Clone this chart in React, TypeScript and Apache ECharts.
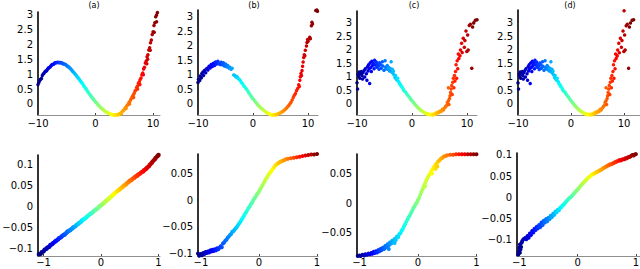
import React, { useEffect, useRef } from "react";
import * as echarts from "echarts";

// jet colormap
const JET = ["#00007F", "#0000FF", "#007FFF", "#00FFFF", "#7FFF7F", "#FFFF00", "#FF7F00", "#FF0000", "#7F0000"];

const panelTitles = ["(a)", "(b)", "(c)", "(d)"];
const topXTicks = [-10, 0, 10];
const topYTicks = [0, 0.5, 1, 1.5, 2, 2.5, 3];
const botXTicks = [-1, 0, 1];
const botYTicksA = [-0.1, -0.05, 0, 0.05, 0.1];
const botYTicksB = [-0.1, -0.05, 0, 0.05];
const botYTicksC = [-0.05, 0, 0.05];
const botYTicksD = [-0.1, -0.05, 0, 0.05, 0.1];

const topA: number[][] = [
  [-10.0,0.65],[-9.85,0.72],[-9.7,0.79],[-9.55,0.83],[-9.4,0.85],[-9.25,0.95],[-9.1,1.0],[-8.95,1.03],[-8.8,1.08],[-8.65,1.1],
  [-8.5,1.11],[-8.35,1.16],[-8.2,1.2],[-8.05,1.22],[-7.9,1.24],[-7.75,1.28],[-7.6,1.31],[-7.45,1.32],[-7.3,1.33],[-7.15,1.36],
  [-7.0,1.38],[-6.85,1.38],[-6.7,1.39],[-6.55,1.4],[-6.4,1.38],[-6.25,1.39],[-6.1,1.39],[-5.95,1.37],[-5.8,1.37],[-5.65,1.35],
  [-5.5,1.34],[-5.35,1.33],[-5.2,1.32],[-5.05,1.29],[-4.9,1.27],[-4.75,1.25],[-4.6,1.23],[-4.45,1.2],[-4.3,1.17],[-4.15,1.14],
  [-4.0,1.1],[-3.85,1.07],[-3.7,1.04],[-3.55,1.0],[-3.4,0.97],[-3.25,0.93],[-3.1,0.89],[-2.95,0.86],[-2.8,0.82],[-2.65,0.78],
  [-2.5,0.74],[-2.35,0.7],[-2.2,0.66],[-2.05,0.61],[-1.9,0.57],[-1.75,0.53],[-1.6,0.49],[-1.45,0.44],[-1.3,0.4],[-1.15,0.36],
  [-1.0,0.32],[-0.85,0.28],[-0.7,0.24],[-0.55,0.2],[-0.4,0.17],[-0.25,0.13],[-0.1,0.09],[0.05,0.06],[0.2,0.03],[0.35,-0.01],
  [0.5,-0.04],[0.65,-0.07],[0.8,-0.1],[0.95,-0.13],[1.1,-0.16],[1.25,-0.18],[1.4,-0.2],[1.55,-0.23],[1.7,-0.25],[1.85,-0.26],
  [2.0,-0.28],[2.15,-0.3],[2.3,-0.31],[2.45,-0.33],[2.6,-0.34],[2.75,-0.35],[2.9,-0.35],[3.05,-0.36],[3.2,-0.37],[3.35,-0.37],
  [3.5,-0.37],[3.7,-0.36],[3.85,-0.35],[4.0,-0.36],[4.15,-0.33],[4.3,-0.31],[4.45,-0.3],[4.6,-0.27],[4.75,-0.23],[4.9,-0.21],
  [5.05,-0.16],[5.2,-0.13],[5.35,-0.08],[5.5,-0.05],[5.65,-0.01],[5.8,0.05],[5.95,0.08],[6.1,0.14],[6.25,0.19],[6.4,0.25],
  [6.55,0.3],[6.7,0.35],[6.85,0.43],[7.0,0.47],[7.15,0.56],[7.3,0.6],[7.45,0.69],[7.6,0.74],[7.75,0.82],[7.9,0.87],
  [8.05,0.98],[8.2,1.04],[8.35,1.17],[8.5,1.23],[8.65,1.37],[8.8,1.44],[8.95,1.58],[9.1,1.65],[9.25,1.81],[9.4,1.88],
  [9.55,2.05],[9.7,2.14],[9.85,2.33],[10.0,2.42],[10.15,2.63],[10.3,2.72],[10.45,2.92],[10.6,2.98],[10.75,3.06],
  [5.9,0.0],[6.6,0.22],[7.3,0.5],[7.7,0.65],[8.3,0.98],[8.9,1.35],[9.05,1.5],[9.5,1.8],[10.2,2.4],[10.6,2.75],[4.5,-0.33],[5.3,-0.15],
];

const topB: number[][] = [
  [-10.1,0.62],[-10.0,0.74],[-9.9,0.85],[-9.7,0.81],[-9.6,0.96],[-9.4,0.9],[-9.3,1.05],[-9.1,1.1],[-9.0,0.98],[-8.8,1.16],
  [-8.6,1.08],[-8.4,1.22],[-8.2,1.17],[-8.0,1.3],[-7.8,1.24],[-7.6,1.36],[-7.4,1.29],[-7.2,1.4],[-7.0,1.33],[-6.8,1.45],
  [-6.6,1.38],[-6.4,1.47],[-6.2,1.4],[-6.0,1.36],[-5.8,1.44],[-5.6,1.35],[-5.4,1.42],[-5.2,1.31],[-5.0,1.38],[-4.8,1.28],
  [-4.6,1.33],[-4.4,1.24],[-4.2,1.27],[-4.0,1.2],[-3.8,1.23],[-3.5,1.0],[-3.3,0.98],[-3.1,0.93],[-2.9,0.95],[-2.7,0.88],
  [-2.5,0.85],[-2.3,0.8],[-2.1,0.74],[-1.9,0.7],[-1.7,0.63],[-1.5,0.59],[-1.3,0.53],[-1.1,0.49],[-0.9,0.43],[-0.7,0.37],
  [-0.5,0.31],[-0.3,0.26],[-0.1,0.2],[0.1,0.16],[0.3,0.1],[0.5,0.06],[0.7,0.01],[0.9,-0.04],[1.1,-0.07],[1.3,-0.11],
  [1.5,-0.15],[1.7,-0.18],[1.9,-0.21],[2.1,-0.24],[2.3,-0.27],[2.5,-0.3],[2.7,-0.31],[2.9,-0.34],[3.1,-0.35],[3.3,-0.37],
  [3.5,-0.38],[3.7,-0.37],[3.9,-0.38],[4.1,-0.36],[4.3,-0.37],[4.5,-0.34],[4.7,-0.33],[4.9,-0.31],[5.1,-0.29],[5.3,-0.27],
  [5.5,-0.24],[5.7,-0.21],[5.9,-0.17],[6.1,-0.14],[6.3,-0.09],[6.5,-0.05],[6.7,0.01],[6.9,0.06],[7.1,0.14],[7.3,0.22],
  [7.5,0.3],[7.7,0.36],[7.9,0.46],[8.1,0.53],[8.3,0.66],[8.4,0.6],[8.5,0.82],[8.6,0.94],[8.7,1.05],[8.8,0.98],
  [8.9,1.15],[9.0,1.3],[9.1,1.45],[9.2,1.6],[9.3,1.7],[9.4,1.66],[9.5,1.85],[9.7,2.0],[9.8,2.12],[9.9,2.22],
  [10.0,2.16],[10.3,2.3],[10.4,2.25],[10.6,2.7],[10.7,2.82],[10.8,2.76],[11.4,3.22],[11.6,3.24],[11.7,3.2],
];

const topC: number[][] = [
  [-10.1,0.62],[-10.0,0.78],[-9.9,0.55],[-9.8,1.1],[-9.7,1.02],[-9.6,1.18],[-9.5,0.95],[-9.4,1.12],[-9.2,1.2],[-9.1,1.05],
  [-9.0,0.92],[-8.9,1.16],[-8.7,1.24],[-8.6,1.0],[-8.5,1.3],[-8.3,1.12],[-8.2,0.88],[-8.1,1.38],[-8.0,1.22],[-7.9,1.45],
  [-7.8,1.3],[-7.7,0.76],[-7.6,1.52],[-7.5,1.35],[-7.4,1.2],[-7.3,1.58],[-7.2,1.42],[-7.0,1.5],[-6.9,1.3],[-6.8,1.62],
  [-6.7,1.44],[-6.5,1.55],[-6.4,1.36],[-6.3,1.48],[-6.1,1.4],[-6.0,1.28],[-5.9,1.52],[-5.7,1.45],[-5.6,1.32],[-5.4,1.56],
  [-5.3,1.4],[-5.1,1.25],[-4.9,1.6],[-4.8,1.36],[-4.7,1.3],[-4.5,1.42],[-4.4,1.28],[-4.2,1.35],[-4.1,1.22],[-3.9,1.3],
  [-3.8,1.56],[-3.7,1.18],[-3.6,1.28],[-3.5,1.15],[-3.4,1.22],[-3.3,1.08],[-3.1,0.98],[-3.0,1.05],[-2.9,0.92],[-2.7,0.88],
  [-2.6,0.95],[-2.4,0.82],[-2.3,0.76],[-2.1,0.72],[-2.0,0.66],[-1.8,0.62],[-1.6,0.55],[-1.5,0.5],[-1.3,0.46],[-1.1,0.42],
  [-0.9,0.36],[-0.7,0.3],[-0.5,0.26],[-0.3,0.2],[-0.1,0.14],[0.1,0.1],[0.3,0.04],[0.5,0.0],[0.7,-0.06],[0.9,-0.1],
  [1.1,-0.14],[1.3,-0.18],[1.5,-0.22],[1.7,-0.24],[1.9,-0.28],[2.1,-0.3],[2.3,-0.33],[2.5,-0.35],[2.7,-0.37],[2.9,-0.36],
  [3.1,-0.39],[3.3,-0.4],[3.5,-0.38],[3.7,-0.41],[3.9,-0.37],[4.1,-0.39],[4.3,-0.34],[4.5,-0.36],[4.7,-0.3],[4.9,-0.32],
  [5.1,-0.26],[5.3,-0.28],[5.5,-0.2],[5.7,-0.22],[5.9,-0.15],[6.1,-0.1],[6.3,-0.05],[6.4,0.05],[6.6,0.12],[6.7,-0.02],
  [6.8,0.2],[6.9,0.3],[7.0,0.42],[7.1,0.55],[6.6,0.6],[7.2,0.68],[7.3,0.35],[7.4,0.8],[7.5,0.95],[7.6,0.6],
  [7.7,1.05],[7.8,0.85],[7.9,1.2],[8.0,1.45],[8.1,0.95],[8.2,1.6],[8.3,1.3],[8.4,1.85],[8.5,1.68],[8.7,1.78],
  [8.8,2.0],[9.0,2.25],[9.1,1.9],[9.3,2.43],[9.5,2.1],[9.6,2.35],[9.8,2.7],[9.95,1.94],[10.0,3.45],[10.1,2.55],
  [10.2,2.0],[10.4,2.9],[10.6,2.95],[10.85,1.32],[11.0,2.85],[11.2,3.0],[11.5,3.1],[11.8,3.12],
];
// panel (d) top shows the same sample as panel (c)
const topD: number[][] = topC;

const botA: number[][] = [
  [-1.1,-0.117],[-1.08,-0.113],[-1.05,-0.112],[-1.03,-0.108],[-1.0,-0.106],[-0.98,-0.102],[-0.95,-0.1],[-0.93,-0.097],[-0.9,-0.095],[-0.88,-0.091],
  [-0.85,-0.089],[-0.83,-0.086],[-0.8,-0.083],[-0.78,-0.081],[-0.75,-0.078],[-0.73,-0.075],[-0.7,-0.073],[-0.68,-0.07],[-0.65,-0.067],[-0.63,-0.066],
  [-0.6,-0.062],[-0.58,-0.059],[-0.55,-0.057],[-0.53,-0.055],[-0.5,-0.052],[-0.48,-0.049],[-0.45,-0.047],[-0.43,-0.044],[-0.4,-0.041],[-0.38,-0.039],
  [-0.35,-0.036],[-0.33,-0.033],[-0.3,-0.03],[-0.28,-0.028],[-0.25,-0.025],[-0.23,-0.022],[-0.2,-0.019],[-0.18,-0.017],[-0.15,-0.014],[-0.13,-0.011],
  [-0.1,-0.008],[-0.08,-0.006],[-0.05,-0.003],[-0.03,0.0],[0.0,0.003],[0.03,0.006],[0.05,0.009],[0.08,0.012],[0.1,0.015],[0.13,0.018],
  [0.15,0.021],[0.18,0.024],[0.2,0.027],[0.23,0.03],[0.25,0.033],[0.28,0.036],[0.3,0.039],[0.33,0.041],[0.35,0.044],[0.38,0.047],
  [0.4,0.05],[0.43,0.052],[0.45,0.055],[0.48,0.058],[0.5,0.061],[0.53,0.063],[0.55,0.066],[0.58,0.068],[0.6,0.071],[0.63,0.073],
  [0.65,0.076],[0.68,0.078],[0.7,0.081],[0.73,0.083],[0.75,0.086],[0.78,0.089],[0.8,0.092],[0.83,0.095],[0.85,0.099],[0.88,0.103],
  [0.9,0.107],[0.93,0.111],[0.95,0.115],[0.98,0.119],[1.0,0.122],
];

const botB: number[][] = [
  [-1.07,-0.104],[-1.05,-0.101],[-1.03,-0.105],[-1.0,-0.102],[-0.98,-0.104],[-0.96,-0.1],[-0.94,-0.102],[-0.92,-0.098],[-0.9,-0.1],[-0.88,-0.097],
  [-0.86,-0.099],[-0.84,-0.095],[-0.82,-0.097],[-0.8,-0.094],[-0.78,-0.096],[-0.76,-0.093],[-0.74,-0.095],[-0.72,-0.091],[-0.7,-0.093],[-0.68,-0.09],
  [-0.66,-0.087],[-0.64,-0.089],[-0.62,-0.082],[-0.6,-0.08],[-0.58,-0.077],[-0.56,-0.075],[-0.54,-0.071],[-0.52,-0.069],[-0.5,-0.066],[-0.48,-0.064],
  [-0.46,-0.06],[-0.44,-0.059],[-0.42,-0.056],[-0.4,-0.053],[-0.38,-0.051],[-0.36,-0.047],[-0.34,-0.044],[-0.32,-0.041],[-0.3,-0.037],[-0.28,-0.034],
  [-0.26,-0.03],[-0.24,-0.026],[-0.22,-0.023],[-0.2,-0.019],[-0.18,-0.015],[-0.16,-0.012],[-0.14,-0.008],[-0.12,-0.005],[-0.1,-0.001],[-0.08,0.003],
  [-0.06,0.006],[-0.04,0.01],[-0.02,0.013],[0.0,0.016],[0.02,0.02],[0.04,0.024],[0.06,0.028],[0.08,0.032],[0.1,0.036],[0.12,0.04],
  [0.14,0.043],[0.16,0.047],[0.18,0.05],[0.2,0.053],[0.22,0.056],[0.24,0.059],[0.26,0.062],[0.28,0.065],[0.3,0.067],[0.32,0.069],
  [0.34,0.07],[0.36,0.072],[0.38,0.073],[0.4,0.074],[0.43,0.075],[0.46,0.077],[0.5,0.078],[0.55,0.079],[0.6,0.08],[0.65,0.081],
  [0.7,0.082],[0.75,0.083],[0.8,0.084],[0.85,0.085],[0.9,0.086],[0.95,0.086],[1.0,0.087],
];

const botC: number[][] = [
  [-1.03,-0.09],[-1.0,-0.089],[-0.98,-0.09],[-0.95,-0.088],[-0.92,-0.089],[-0.9,-0.087],[-0.87,-0.088],[-0.85,-0.086],[-0.82,-0.087],[-0.8,-0.085],
  [-0.78,-0.086],[-0.76,-0.083],[-0.74,-0.085],[-0.72,-0.082],[-0.7,-0.084],[-0.68,-0.08],[-0.66,-0.082],[-0.64,-0.078],[-0.62,-0.08],[-0.6,-0.076],
  [-0.58,-0.078],[-0.56,-0.073],[-0.54,-0.075],[-0.52,-0.07],[-0.5,-0.072],[-0.48,-0.067],[-0.46,-0.069],[-0.44,-0.064],[-0.42,-0.066],[-0.4,-0.061],
  [-0.38,-0.063],[-0.36,-0.057],[-0.34,-0.058],[-0.32,-0.053],[-0.3,-0.051],[-0.28,-0.047],[-0.26,-0.044],[-0.24,-0.04],[-0.22,-0.036],[-0.2,-0.032],
  [-0.18,-0.028],[-0.16,-0.024],[-0.14,-0.021],[-0.12,-0.017],[-0.1,-0.013],[-0.08,-0.009],[-0.06,-0.006],[-0.04,-0.002],[-0.02,0.001],[0.0,0.005],
  [0.02,0.009],[0.04,0.014],[0.06,0.019],[0.08,0.024],[0.1,0.029],[0.12,0.033],[0.14,0.038],[0.16,0.042],[0.18,0.046],[0.2,0.049],
  [0.22,0.053],[0.24,0.056],[0.26,0.059],[0.28,0.062],[0.3,0.065],[0.32,0.067],[0.34,0.07],[0.36,0.072],[0.38,0.074],[0.4,0.076],
  [0.42,0.077],[0.44,0.079],[0.47,0.08],[0.5,0.081],[0.55,0.082],[0.6,0.082],[0.65,0.083],[0.7,0.083],[0.75,0.083],[0.8,0.083],
  [0.85,0.083],[0.9,0.083],[0.95,0.083],[1.0,0.083],
  [-0.5,-0.078],[-0.4,-0.068],[0.3,0.058],[0.33,0.062],[0.12,0.028],[0.24,0.05],
];

const botD: number[][] = [
  [-1.02,-0.136],[-1.0,-0.14],[-1.01,-0.128],[-0.99,-0.132],[-0.98,-0.124],[-1.0,-0.12],[-0.97,-0.118],[-0.99,-0.112],[-0.96,-0.108],[-0.95,-0.104],
  [-0.93,-0.1],[-0.9,-0.097],[-0.88,-0.1],[-0.86,-0.092],[-0.84,-0.096],[-0.82,-0.086],[-0.8,-0.09],[-0.78,-0.08],[-0.76,-0.084],[-0.74,-0.075],
  [-0.72,-0.078],[-0.7,-0.07],[-0.68,-0.074],[-0.66,-0.066],[-0.64,-0.071],[-0.62,-0.06],[-0.6,-0.066],[-0.58,-0.056],[-0.56,-0.06],[-0.54,-0.052],
  [-0.52,-0.057],[-0.5,-0.049],[-0.48,-0.052],[-0.46,-0.044],[-0.44,-0.047],[-0.42,-0.039],[-0.4,-0.042],[-0.38,-0.034],[-0.36,-0.036],[-0.34,-0.03],
  [-0.32,-0.031],[-0.3,-0.025],[-0.28,-0.024],[-0.26,-0.02],[-0.24,-0.018],[-0.22,-0.014],[-0.2,-0.011],[-0.18,-0.008],[-0.16,-0.005],[-0.14,-0.002],
  [-0.12,0.0],[-0.1,0.003],[-0.08,0.006],[-0.06,0.009],[-0.04,0.012],[-0.02,0.015],[0.0,0.018],[0.02,0.021],[0.04,0.025],[0.06,0.028],
  [0.08,0.031],[0.1,0.034],[0.12,0.037],[0.14,0.04],[0.16,0.043],[0.18,0.046],[0.2,0.048],[0.22,0.05],[0.24,0.053],[0.26,0.054],
  [0.28,0.056],[0.3,0.057],[0.32,0.059],[0.34,0.06],[0.36,0.062],[0.38,0.063],[0.4,0.065],[0.42,0.066],[0.44,0.069],[0.46,0.07],
  [0.48,0.072],[0.5,0.073],[0.52,0.075],[0.54,0.076],[0.56,0.078],[0.58,0.078],[0.6,0.08],[0.62,0.081],[0.64,0.083],[0.66,0.084],
  [0.68,0.085],[0.7,0.086],[0.72,0.088],[0.74,0.087],[0.76,0.089],[0.78,0.09],[0.8,0.09],[0.82,0.092],[0.84,0.092],[0.86,0.094],
  [0.88,0.095],[0.9,0.096],[0.92,0.098],[0.94,0.1],[0.96,0.099],[0.98,0.101],[1.0,0.102],
];

const FONT = "DejaVu Sans";

const panels = [
  { data: topA, grid: { left: 38, top: 12, width: 122, height: 103 }, x: [-10, 11.2], y: [-0.37, 3.08], xt: topXTicks, yt: topYTicks, c: [-10, 10.8], s: 3.5, lm: 3 },
  { data: topB, grid: { left: 198, top: 10, width: 120, height: 105 }, x: [-10, 11.8], y: [-0.38, 3.24], xt: topXTicks, yt: topYTicks, c: [-10, 11.2], s: 3.5, lm: 3 },
  { data: topC, grid: { left: 357, top: 11, width: 120, height: 104 }, x: [-10, 11.8], y: [-0.41, 3.44], xt: topXTicks, yt: topYTicks, c: [-10, 11.2], s: 3.5, lm: 3 },
  { data: topD, grid: { left: 518, top: 10, width: 122, height: 105 }, x: [-10, 13], y: [-0.41, 3.48], xt: topXTicks, yt: topYTicks, c: [-10, 11.2], s: 3.5, lm: 3 },
  { data: botA, grid: { left: 38, top: 155, width: 122, height: 101 }, x: [-1.096, 1.026], y: [-0.117, 0.122], xt: botXTicks, yt: botYTicksA, c: [-1.05, 1.0], s: 4.5, lm: 1 },
  { data: botB, grid: { left: 198, top: 154, width: 120, height: 102 }, x: [-1.05, 1.017], y: [-0.1056, 0.087], xt: botXTicks, yt: botYTicksB, c: [-1.05, 1.0], s: 4, lm: 1 },
  { data: botC, grid: { left: 357, top: 154, width: 120, height: 102 }, x: [-1.043, 1.009], y: [-0.09, 0.0833], xt: botXTicks, yt: botYTicksC, c: [-1.03, 1.0], s: 4, lm: 1 },
  { data: botD, grid: { left: 517, top: 153, width: 123, height: 103 }, x: [-1.04, 1.07], y: [-0.1395, 0.1047], xt: botXTicks, yt: botYTicksD, c: [-1.03, 1.0], s: 4, lm: 1 },
];

const titleX = [94, 254, 414, 570];

const fmt = (v: number) => String(+Number(v).toFixed(4)).replace("-", "\u2212");

export default function App() {
  const ref = useRef<HTMLDivElement>(null);
  useEffect(() => {
    document.body.style.margin = "0";
    if (!ref.current) return;
    const chart = echarts.init(ref.current, undefined, { renderer: "svg" });
    const option: any = {
      animation: false,
      backgroundColor: "#fff",
      grid: panels.map((p) => ({ ...p.grid, containLabel: false, outerBoundsMode: "none" })),
      xAxis: panels.map((p, i) => ({
        type: "value",
        gridIndex: i,
        min: p.x[0],
        max: p.x[1],
        position: "bottom",
        axisLine: { show: true, onZero: false, lineStyle: { color: "#8f8f8f", width: 1 } },
        axisTick: { show: true, inside: true, length: 2, customValues: p.xt, lineStyle: { color: "#444", width: 1 } },
        axisLabel: { show: true, customValues: p.xt, formatter: fmt, fontSize: 10, lineHeight: 10, fontFamily: FONT, color: "#000", margin: p.lm },
        splitLine: { show: false },
      })),
      yAxis: panels.map((p, i) => ({
        type: "value",
        gridIndex: i,
        min: p.y[0],
        max: p.y[1],
        position: "left",
        axisLine: { show: true, onZero: false, lineStyle: { color: "#000", width: 1.6 } },
        axisTick: { show: false },
        axisLabel: { show: true, customValues: p.yt, formatter: fmt, fontSize: 10, fontFamily: FONT, color: "#000", margin: 5 },
        splitLine: { show: false },
      })),
      visualMap: panels.map((p, i) => ({
        type: "continuous",
        show: false,
        seriesIndex: i,
        dimension: 0,
        min: p.c[0],
        max: p.c[1],
        inRange: { color: JET },
      })),
      series: panels.map((p, i) => ({
        type: "scatter",
        xAxisIndex: i,
        yAxisIndex: i,
        data: p.data,
        symbol: "circle",
        symbolSize: p.s,
        itemStyle: { opacity: 1 },
        silent: true,
      })),
      graphic: panelTitles.map((t, i) => ({
        type: "text",
        x: titleX[i],
        y: 1,
        style: {
          text: t,
          fontSize: 8,
          fontFamily: FONT,
          fill: "#000",
          textAlign: "center",
          textVerticalAlign: "top",
          align: "center",
          verticalAlign: "top",
        },
      })),
    };
    chart.setOption(option);
    return () => chart.dispose();
  }, []);
  return <div ref={ref} style={{ width: 640, height: 269 }} />;
}
